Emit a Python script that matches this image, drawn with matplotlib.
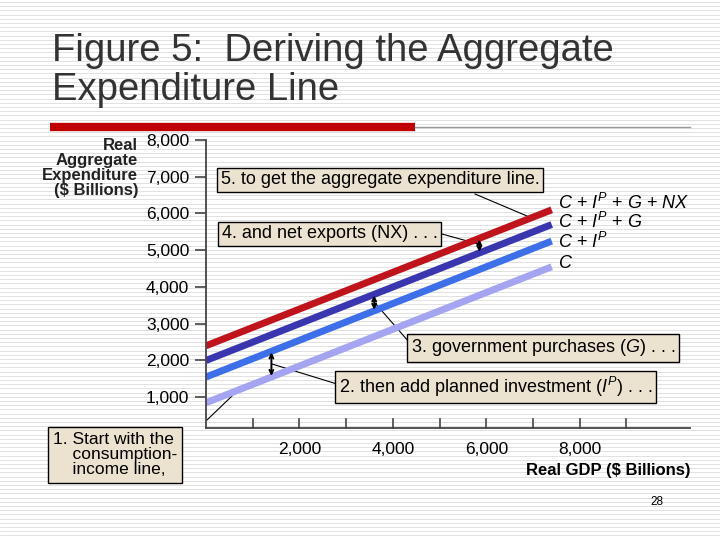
import matplotlib
matplotlib.use("Agg")
import matplotlib.pyplot as plt
import numpy as np

plt.rcParams['font.family'] = ['Liberation Sans', 'DejaVu Sans']
plt.rcParams['mathtext.fontset'] = 'custom'
plt.rcParams['mathtext.it'] = 'Liberation Sans:italic'
plt.rcParams['mathtext.rm'] = 'Liberation Sans'

gdp = [0, 7400]
c_line = [850, 4550]
c_ip = [1550, 5250]
c_ip_g = [2000, 5700]
ae_line = [2400, 6100]
series = [(c_line, '#a4a4f0', '$C$', 264), (c_ip, '#3d6fe8', '$C$ + $I^P$', 242),
          (c_ip_g, '#3a36b0', '$C$ + $I^P$ + $G$', 222), (ae_line, '#c0141c', '$C$ + $I^P$ + $G$ + $NX$', 203)]
yticks = [1000, 2000, 3000, 4000, 5000, 6000, 7000, 8000]
xticklabels_at = [2000, 4000, 6000, 8000]

W, H = 720, 540
fig = plt.figure(figsize=(7.2, 5.4), dpi=100)
fig.patch.set_facecolor('white')

def P(x, y):
    return (x / W, 1 - y / H)

bg = fig.add_axes([0, 0, 1, 1], zorder=-10)
bg.set_xlim(0, W); bg.set_ylim(H, 0); bg.axis('off')
for yy in np.arange(2, H, 4.2):
    bg.axhline(yy, color='#dcdcdc', lw=0.6)
bg.plot([50, 415], [127, 127], color='#c00000', lw=6, solid_capstyle='butt')
bg.plot([415, 690], [127, 127], color='#999999', lw=1)

fig.text(*P(52, 33), "Figure 5:  Deriving the Aggregate\nExpenditure Line", fontsize=27.5,
         va='top', ha='left', color='#333333', linespacing=1.1)

ax = fig.add_axes([206 / W, 1 - 428 / H, (690 - 206) / W, (428 - 140) / H])
ax.set_facecolor('none')
ax.set_xlim(0, 10360)
ax.set_ylim(163, 8000)
for s in ['top', 'right']:
    ax.spines[s].set_visible(False)
for s in ['left', 'bottom']:
    ax.spines[s].set_color('#444444'); ax.spines[s].set_linewidth(1.3)
ax.set_yticks(yticks)
ax.set_yticklabels([f"{v:,}" for v in yticks], fontsize=12.5)
ax.set_xticks(np.arange(1000, 10000, 1000))
ax.set_xticklabels([f"{v:,}" if v in xticklabels_at else "" for v in range(1000, 10000, 1000)], fontsize=12.5)
ax.tick_params(axis='y', length=8, width=1.2, color='#444444', pad=4)
ax.tick_params(axis='x', length=0, pad=10)
for v in range(1000, 10000, 1000):
    ax.plot([v, v], [163, 163 + 250], color='#444444', lw=1.2, clip_on=False)

for ys, col, lab, ly in series:
    ax.plot(gdp, ys, color=col, lw=5, solid_capstyle='butt')
    fig.text(*P(558, ly), lab, fontsize=13, va='center', ha='left')

def darrow(x, lo, hi):
    y0 = np.interp(x, gdp, lo) + 30
    y1 = np.interp(x, gdp, hi) - 30
    ax.annotate('', xy=(x, y1), xytext=(x, y0),
                arrowprops=dict(arrowstyle='<->', lw=1.4, color='black', mutation_scale=7,
                                shrinkA=0, shrinkB=0))
darrow(1400, c_line, c_ip)
darrow(3600, c_ip, c_ip_g)
darrow(5850, c_ip_g, ae_line)

box = dict(boxstyle='square,pad=0.2', fc='#ece2d0', ec='black', lw=1)
def note(txt, x, y, tx, ty):
    fig.text(*P(x, y), txt, fontsize=13, bbox=box, va='center', ha='left')
    bg.plot([tx[0], ty[0]], [tx[1], ty[1]], color='black', lw=0.8)

note("5. to get the aggregate expenditure line.", 221, 180, (475, 194), (527, 216))
note("4. and net exports (NX) . . .", 222, 234, (442, 234), (478, 244))
note("3. government purchases ($G$) . . .", 411, 348, (409, 342), (375, 303))
note("2. then add planned investment ($I^P$) . . .", 339, 387, (337, 384), (272, 364))
fig.text(*P(53, 455), "1. Start with the\n    consumption-\n    income line,", fontsize=12.5,
         bbox=dict(boxstyle='square,pad=0.3', fc='#ece2d0', ec='black', lw=1), va='center', ha='left',
         linespacing=1.0)
bg.plot([207, 232], [420, 396], color='black', lw=0.8)

fig.text(*P(138, 138), "Real\nAggregate\nExpenditure\n($ Billions)", fontsize=12, ha='right', va='top',
         linespacing=1.0, fontweight='bold', color='#222222')
fig.text(*P(690, 470), "Real GDP ($ Billions)", fontsize=12, ha='right', va='center', fontweight='bold')
fig.text(*P(657, 502), "28", fontsize=8.5, ha='center', va='center')

fig.savefig('out.png', dpi=100)
